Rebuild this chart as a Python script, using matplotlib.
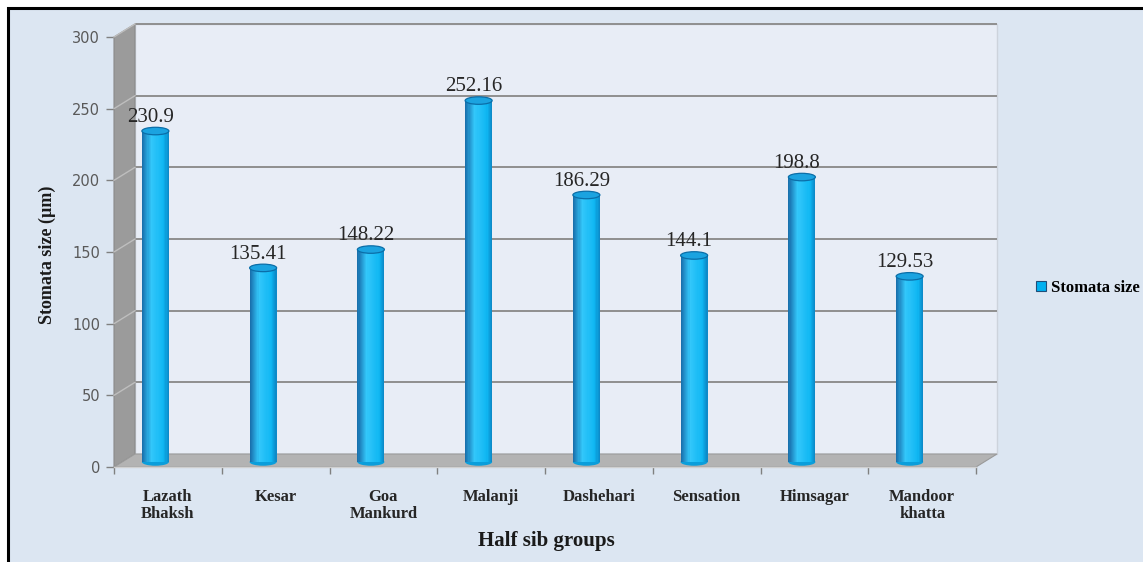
import matplotlib
matplotlib.use('Agg')
import matplotlib.pyplot as plt
from matplotlib.patches import Polygon, Ellipse, Rectangle, Patch
import numpy as np

# ---------------- data ----------------
categories = ['Lazath\nBhaksh', 'Kesar', 'Goa\nMankurd', 'Malanji',
              'Dashehari', 'Sensation', 'Himsagar', 'Mandoor\nkhatta']
values = [230.9, 135.41, 148.22, 252.16, 186.29, 144.1, 198.8, 129.53]
value_labels = ['230.9', '135.41', '148.22', '252.16', '186.29', '144.1', '198.8', '129.53']
yticks = [0, 50, 100, 150, 200, 250, 300]
series_name = 'Stomata size'
y_title = 'Stomata size (µm)'
x_title = 'Half sib groups'

# ---------------- layout ----------------
W, H = 1143, 562
fig = plt.figure(figsize=(W / 100, H / 100), dpi=100)
fig.patch.set_facecolor('white')
fig.add_artist(Rectangle((8 / W, -0.2), 1.3, 1 - 8 / H + 0.2, transform=fig.transFigure,
                         facecolor='#DCE6F2', edgecolor='black', lw=2.2, zorder=-10))

ax_l, ax_r, ax_t, ax_b = 114, 976, 37, 467
ax = fig.add_axes([ax_l / W, (H - ax_b) / H, (ax_r - ax_l) / W, (ax_b - ax_t) / H])
n = len(categories)
ax.set_xlim(-0.5, n - 0.5)
ax.set_ylim(0, 300)
ax.patch.set_visible(False)
for s in ax.spines.values():
    s.set_visible(False)

# pixel -> data conversion for 3D depth offsets
px_x = n / (ax_r - ax_l)
px_y = 300 / (ax_b - ax_t)
dx, dy = 21 * px_x, 13 * px_y
x0, x1 = -0.5, n - 0.5

# back wall
ax.add_patch(Polygon([(x0 + dx, dy), (x1 + dx, dy), (x1 + dx, 300 + dy), (x0 + dx, 300 + dy)],
                     closed=True, facecolor='#E8EDF6', edgecolor='#CDD3DC', lw=1.0,
                     clip_on=False, zorder=0))
# side wall
ax.add_patch(Polygon([(x0, 0), (x0, 300), (x0 + dx, 300 + dy), (x0 + dx, dy)],
                     closed=True, facecolor='#9B9B9B', edgecolor='#8A8A8A', lw=0.8,
                     clip_on=False, zorder=1))
# gridlines
for yv in yticks[1:]:
    ax.plot([x0 + dx, x1 + dx], [yv + dy, yv + dy], color='#8F8F8F', lw=1.4,
            clip_on=False, zorder=1, solid_capstyle='butt')
    ax.plot([x0, x0 + dx], [yv, yv + dy], color='#BEBEBE', lw=1.0, clip_on=False, zorder=2)
# floor
ax.add_patch(Polygon([(x0, 0), (x1, 0), (x1 + dx, dy), (x0 + dx, dy)],
                     closed=True, facecolor='#B3B3B3', edgecolor='#9A9A9A', lw=0.8,
                     clip_on=False, zorder=2))
ax.plot([x0, x1], [0, 0], color='#D0D0D0', lw=1.0, clip_on=False, zorder=2)

# ---------------- cylinders ----------------
xpos = np.arange(n)
bx = xpos - 12.5 * px_x          # bar centres
by = 5 * px_y                    # bar base lift
bw = 27 * px_x                   # bar width
eh = 7.5 * px_y                  # ellipse height

nsl = 24
edge = np.array([0.09, 0.42, 0.66])
light = np.array([0.20, 0.78, 0.98])
mid = np.array([0.0, 0.69, 0.94])
for k in range(nsl):
    t = (k + 0.5) / nsl
    if t < 0.35:
        f = t / 0.35
        c = edge * (1 - f) + light * f
    else:
        f = (t - 0.35) / 0.65
        c = light * (1 - f) + mid * f
        if t > 0.8:
            g = (t - 0.8) / 0.2
            c = c * (1 - 0.6 * g) + edge * 0.6 * g
    ax.bar(bx - bw / 2 + (k + 0.5) * bw / nsl, values, width=bw / nsl * 1.05, bottom=by,
           color=tuple(np.clip(c, 0, 1)), edgecolor='none', zorder=4, clip_on=False)

for i in range(n):
    ax.add_patch(Ellipse((bx[i], by), bw, eh, facecolor='#0A9EDB', edgecolor='none',
                         zorder=3.9, clip_on=False))
    ax.add_patch(Ellipse((bx[i], values[i] + by), bw, eh, facecolor='#1BA3E0',
                         edgecolor='#0B6EA8', lw=0.9, zorder=5, clip_on=False))
    ax.text(bx[i] - 5 * px_x, values[i] + 10, value_labels[i], ha='center', va='baseline',
            fontsize=15, family='Liberation Serif', color='#262626', zorder=6, clip_on=False)

# ---------------- axes ticks ----------------
ax.set_yticks(yticks)
ax.set_yticklabels([str(v) for v in yticks], fontsize=10.5, color='#595959',
                   family='DejaVu Sans')
ax.tick_params(axis='y', length=6, width=1, color='#808080', pad=4)

ax.set_xticks(xpos)
ax.set_xticklabels(categories, fontsize=12, family='Liberation Serif', fontweight='bold',
                   color='#262626', linespacing=1.1, va='top')
ax.set_xticks(np.arange(n + 1) - 0.5, minor=True)
ax.tick_params(axis='x', which='major', length=0, pad=16)
ax.tick_params(axis='x', which='minor', length=5, width=1, color='#808080')

ax.set_ylabel(y_title, fontsize=13, family='Liberation Serif', fontweight='bold',
              color='#1a1a1a', labelpad=0)
ax.yaxis.set_label_coords((56 - ax_l) / (ax_r - ax_l), (ax_b - 255) / (ax_b - ax_t))
ax.set_xlabel(x_title, fontsize=15, family='Liberation Serif', fontweight='bold',
              color='#1a1a1a')
ax.xaxis.set_label_coords((546 - ax_l) / (ax_r - ax_l), -(541 - ax_b) / (ax_b - ax_t))
ax.xaxis.label.set_va('center')

# legend
handle = Patch(facecolor='#00B0F0', edgecolor='#1F4E79', lw=0.8, label=series_name)
fig.legend(handles=[handle], loc='center left', bbox_to_anchor=(1036 / W, 1 - 288 / H),
           frameon=False, handlelength=0.6, handleheight=0.6, handletextpad=0.3,
           borderpad=0, borderaxespad=0,
           prop={'family': 'Liberation Serif', 'weight': 'bold', 'size': 12})

fig.savefig('out.png', dpi=100, facecolor=fig.get_facecolor())
